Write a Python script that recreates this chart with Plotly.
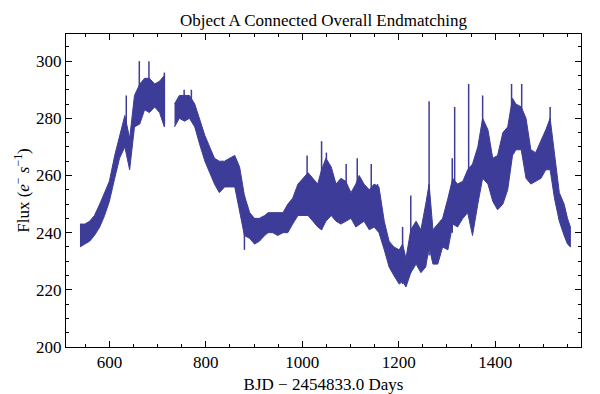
import numpy as np
import plotly.graph_objects as go

# Light curve envelope (days, flux low, flux high)
seg1_x = [539, 549, 559, 569, 580, 590, 600, 611, 621, 632, 642, 652, 663, 673, 683, 694, 704, 714]
seg1_lo = [235, 236, 237, 239, 242, 246, 251, 259, 266, 270, 262, 277, 278, 283, 282, 284, 282, 277]
seg1_hi = [243, 243, 244, 246, 250, 254, 258, 267, 274, 281, 273, 288, 292, 294, 294, 292, 293, 295]

seg2_x = [735, 745, 756, 766, 777, 787, 798, 808, 818, 828, 839, 849, 860, 870, 880, 891, 901, 911,
          922, 929, 939, 949, 960, 970, 980, 991, 1001, 1012, 1022, 1032, 1040, 1049, 1060, 1070,
          1080, 1090, 1101, 1111, 1118, 1128, 1139, 1149, 1159, 1170, 1180, 1190, 1201, 1208, 1215,
          1225, 1236, 1246, 1256, 1263, 1271, 1281, 1291, 1302, 1312, 1322, 1333, 1343, 1353, 1364,
          1374, 1385, 1395, 1405, 1416, 1426, 1436, 1443, 1454, 1464, 1474, 1484, 1495, 1505, 1514,
          1523, 1533, 1543, 1550, 1556]
seg2_lo = [277, 280, 279, 280, 277, 271, 265, 261, 257, 254, 256, 256, 256, 248, 239, 238, 236, 237,
           239, 240, 240, 239, 240, 240, 243, 246, 246, 246, 244, 242, 241, 244, 246, 244,
           243, 244, 245, 242, 243, 244, 241, 242, 240, 234, 228, 225, 222, 223, 221,
           226, 229, 226, 228, 235, 229, 229, 235, 234, 243, 242, 245, 247, 239, 250,
           259, 257, 251, 248, 250, 255, 267, 269, 269, 259, 257, 258, 259, 262, 262,
           252, 244, 239, 236, 235]
seg2_hi = [285, 288, 288, 288, 285, 280, 274, 270, 266, 265, 265, 266, 267, 263, 253, 247, 245, 245,
           246, 247, 247, 247, 247, 250, 252, 257, 259, 261, 259, 257, 262, 266, 263, 257,
           259, 258, 254, 257, 260, 257, 255, 257, 256, 244, 237, 235, 234, 236, 231,
           241, 244, 241, 250, 257, 241, 243, 245, 252, 259, 257, 258, 262, 264, 270,
           280, 276, 266, 267, 275, 277, 287, 285, 284, 280, 269, 268, 272, 276, 280,
           268, 254, 250, 245, 242]

# Narrow spikes (day, bottom, top)
spike_x = [635, 662, 682, 714, 755, 770, 880, 1010, 1040, 1050, 1091, 1114, 1143, 1156, 1208, 1225,
           1263, 1311, 1316, 1345, 1374, 1434, 1455, 1514]
spike_lo = [272, 280, 283, 278, 280, 280, 234, 248, 241, 246, 246, 244, 242, 242, 222, 226,
            232, 240, 245, 250, 262, 268, 270, 266]
spike_hi = [288, 300, 300, 296, 290, 290, 253, 267, 272, 268, 264, 266, 264, 257, 242, 253,
            286, 266, 284, 292, 288, 292, 292, 284]

color = '#3d3d99'
serif = 'Liberation Serif'

fig = go.Figure()

# Filled bands, one per continuous stretch of data
for xs, lo, hi in [(seg1_x, seg1_lo, seg1_hi), (seg2_x, seg2_lo, seg2_hi)]:
    xs = np.array(xs)
    fig.add_trace(go.Scatter(
        x=np.concatenate([xs, xs[::-1]]),
        y=np.concatenate([np.array(hi), np.array(lo)[::-1]]),
        mode='lines',
        fill='toself',
        fillcolor=color,
        line=dict(color=color, width=1),
        hoverinfo='skip',
        showlegend=False,
    ))

# Spikes as thin vertical strokes
sx, sy = [], []
for x, lo, hi in zip(spike_x, spike_lo, spike_hi):
    sx += [x, x, None]
    sy += [lo, hi, None]
fig.add_trace(go.Scatter(
    x=sx, y=sy, mode='lines',
    line=dict(color=color, width=1.5),
    hoverinfo='skip', showlegend=False,
))

axis_common = dict(
    ticks='inside', ticklen=6, tickcolor='black',
    showline=True, linecolor='black', linewidth=1, mirror='allticks',
    showgrid=False, zeroline=False,
    tickfont=dict(family=serif, size=17, color='black'),
)

fig.update_xaxes(
    range=[510, 1578], tick0=0, dtick=200,
    minor=dict(dtick=50, ticks='inside', ticklen=3, tickcolor='black'),
    title=dict(text='BJD \u2212 2454833.0 Days', font=dict(family=serif, size=17, color='black'), standoff=6),
    **axis_common,
)
fig.update_yaxes(
    range=[200, 309.5], tick0=0, dtick=20,
    minor=dict(dtick=5, ticks='inside', ticklen=3, tickcolor='black'),
    title=dict(text='Flux (<i>e</i><sup>\u2212</sup> <i>s</i><sup>\u22121</sup>)',
               font=dict(family=serif, size=17, color='black'), standoff=2),
    **axis_common,
)

fig.update_layout(
    width=600, height=394,
    margin=dict(l=58, r=27, t=26, b=49),
    plot_bgcolor='white', paper_bgcolor='white',
    title=dict(text='Object A Connected Overall Endmatching', x=0.5, xref='paper', xanchor='center',
               y=1 - 12 / 394, yanchor='middle', font=dict(family=serif, size=17, color='black')),
)

fig.write_html("out.html")
